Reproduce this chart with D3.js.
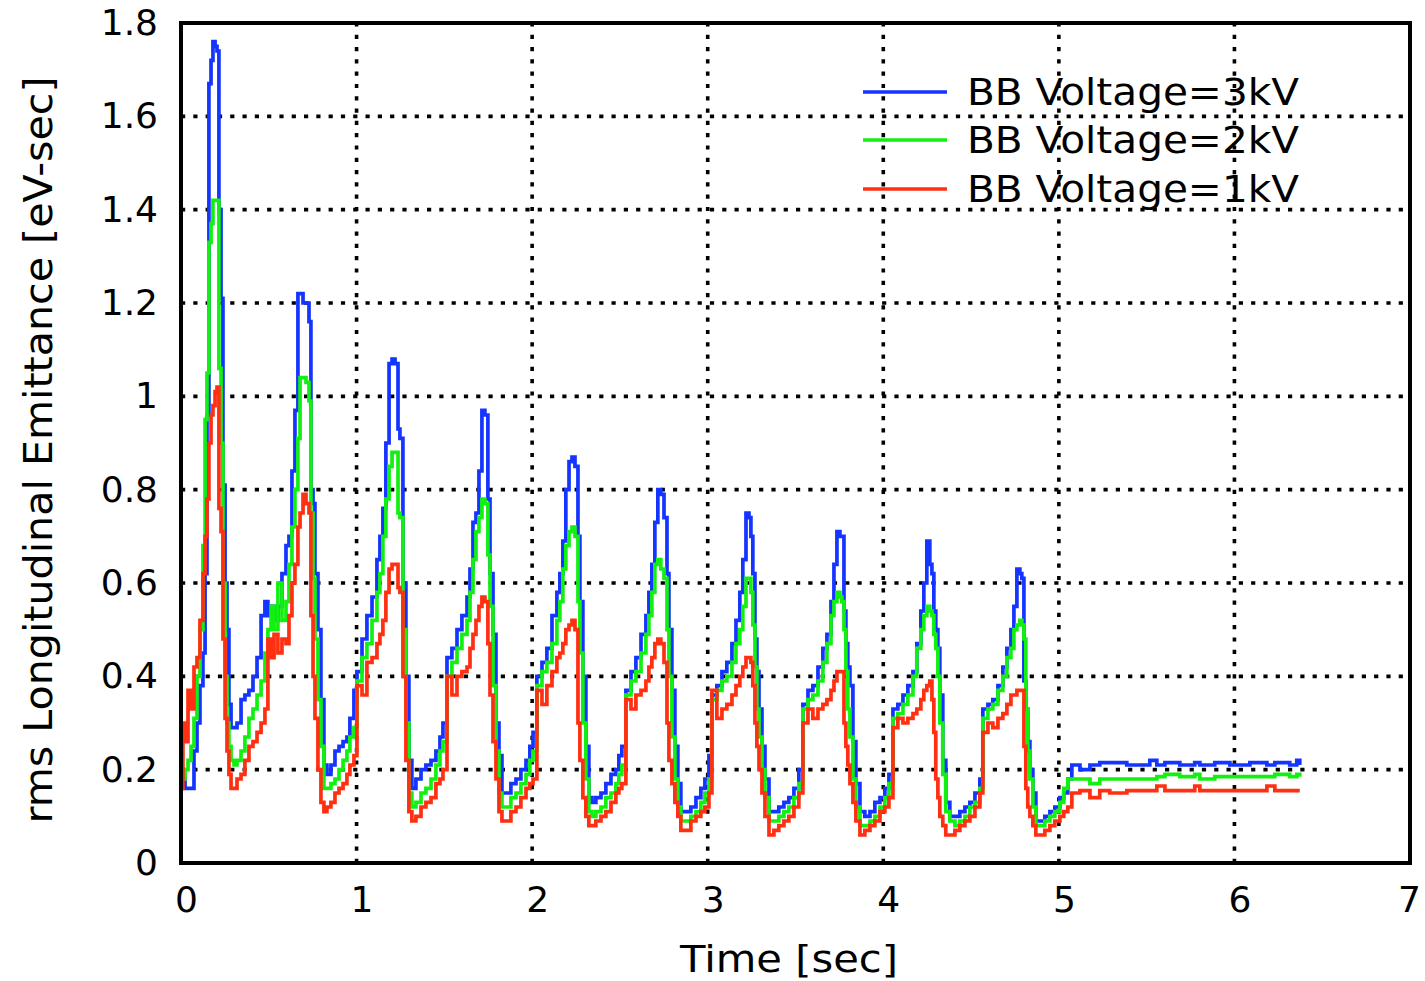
<!DOCTYPE html>
<html>
<head>
<meta charset="utf-8">
<script src="https://cdn.jsdelivr.net/npm/d3@7"></script>
<style>
  html, body { margin: 0; padding: 0; background: #ffffff; }
  svg { display: block; }
  text { font-family: "DejaVu Sans", Verdana, sans-serif; fill: #000; }
</style>
</head>
<body>
<svg id="chart" width="1425" height="981"></svg>
<script>
// Sample times [sec], shared by all three simulation runs
const time = [
  // cycles 1-2
  0.000, 0.011, 0.023, 0.040, 0.057, 0.074, 0.091, 0.108, 0.125, 0.137,
  0.148, 0.159, 0.171, 0.182, 0.194, 0.205, 0.216, 0.228, 0.239, 0.251,
  0.262, 0.273, 0.285, 0.302, 0.319, 0.342, 0.364, 0.387, 0.410, 0.433,
  0.456, 0.478, 0.495, 0.513, 0.530, 0.552, 0.575, 0.598, 0.615, 0.632,
  0.649, 0.666, 0.678, 0.695, 0.712, 0.729, 0.740, 0.752, 0.763, 0.780,
  0.797, 0.814, 0.831, 0.854, 0.877, 0.900, 0.923, 0.945, 0.962, 0.985,
  // cycle 3
  1.002, 1.031, 1.059, 1.088, 1.116, 1.133, 1.150, 1.167, 1.185, 1.202, 1.219, 1.236,
  1.247, 1.264, 1.281, 1.298, 1.315, 1.338, 1.367, 1.395, 1.424, 1.452, 1.475, 1.492,
  // cycle 4
  1.515, 1.543, 1.572, 1.600, 1.629, 1.646, 1.663, 1.680, 1.697, 1.714, 1.731, 1.748,
  1.760, 1.777, 1.794, 1.811, 1.828, 1.851, 1.879, 1.908, 1.936, 1.965, 1.987, 2.005,
  // cycle 5
  2.027, 2.056, 2.084, 2.113, 2.141, 2.158, 2.175, 2.192, 2.210, 2.227, 2.244, 2.261,
  2.272, 2.289, 2.306, 2.323, 2.341, 2.363, 2.392, 2.420, 2.449, 2.477, 2.494, 2.511,
  // cycle 6
  2.534, 2.563, 2.591, 2.620, 2.648, 2.665, 2.682, 2.699, 2.716, 2.733, 2.751, 2.768,
  2.779, 2.796, 2.813, 2.830, 2.847, 2.876, 2.904, 2.933, 2.961, 2.984, 3.007,
  // cycle 7
  3.024, 3.052, 3.081, 3.109, 3.138, 3.161, 3.183, 3.200, 3.218, 3.235, 3.246, 3.257,
  3.269, 3.280, 3.292, 3.309, 3.326, 3.349, 3.377, 3.405, 3.434, 3.462, 3.491, 3.519,
  // cycle 8
  3.542, 3.571, 3.599, 3.628, 3.656, 3.679, 3.702, 3.719, 3.736, 3.753, 3.764, 3.776,
  3.787, 3.798, 3.810, 3.827, 3.844, 3.867, 3.895, 3.924, 3.952, 3.981, 4.009, 4.032,
  // cycle 9
  4.055, 4.083, 4.112, 4.140, 4.169, 4.191, 4.214, 4.231, 4.248, 4.265, 4.277, 4.288,
  4.299, 4.311, 4.322, 4.339, 4.356, 4.379, 4.408, 4.436, 4.465, 4.493, 4.522, 4.550,
  // cycle 10
  4.567, 4.596, 4.624, 4.653, 4.681, 4.704, 4.727, 4.744, 4.761, 4.778, 4.789, 4.801,
  4.812, 4.823, 4.835, 4.852, 4.869, 4.892, 4.920, 4.949, 4.977, 5.006, 5.028, 5.051,
  // flat top after the last cycle
  5.074, 5.120, 5.177, 5.233, 5.290, 5.387, 5.518, 5.558, 5.604, 5.689,
  5.774, 5.803, 5.888, 5.974, 6.088, 6.185, 6.230, 6.315, 6.355, 6.372
];

// rms longitudinal emittance [eV-sec], BB voltage = 3 kV
const emit3kV = [
  0.20, 0.18, 0.16, 0.16, 0.16, 0.24, 0.30, 0.38, 0.45, 0.62,
  0.96, 1.67, 1.72, 1.76, 1.75, 1.74, 1.40, 1.21, 0.81, 0.60,
  0.50, 0.34, 0.29, 0.29, 0.30, 0.35, 0.36, 0.37, 0.40, 0.44,
  0.53, 0.56, 0.53, 0.55, 0.52, 0.55, 0.62, 0.68, 0.70, 0.84,
  0.97, 1.22, 1.22, 1.20, 1.20, 1.16, 0.80, 0.77, 0.62, 0.50,
  0.35, 0.21, 0.19, 0.21, 0.24, 0.25, 0.26, 0.27, 0.31, 0.37,
  0.41, 0.48, 0.53, 0.57, 0.65, 0.70, 0.76, 0.90, 1.07, 1.08, 1.07, 0.93,
  0.91, 0.60, 0.40, 0.22, 0.16, 0.18, 0.20, 0.21, 0.22, 0.24, 0.27, 0.30,
  0.44, 0.46, 0.50, 0.53, 0.57, 0.63, 0.73, 0.75, 0.84, 0.97, 0.96, 0.78,
  0.62, 0.49, 0.30, 0.23, 0.15, 0.15, 0.17, 0.18, 0.20, 0.22, 0.25, 0.28,
  0.40, 0.43, 0.46, 0.53, 0.58, 0.62, 0.69, 0.80, 0.86, 0.87, 0.85, 0.70,
  0.56, 0.40, 0.25, 0.14, 0.13, 0.14, 0.15, 0.17, 0.19, 0.20, 0.23, 0.25,
  0.37, 0.41, 0.44, 0.49, 0.53, 0.58, 0.64, 0.73, 0.80, 0.79, 0.74, 0.62,
  0.50, 0.37, 0.25, 0.17, 0.11, 0.11, 0.12, 0.14, 0.16, 0.18, 0.23,
  0.36, 0.38, 0.41, 0.43, 0.47, 0.52, 0.58, 0.65, 0.75, 0.74, 0.70, 0.62,
  0.48, 0.41, 0.33, 0.25, 0.18, 0.11, 0.11, 0.12, 0.13, 0.14, 0.16, 0.20,
  0.34, 0.37, 0.38, 0.42, 0.46, 0.49, 0.56, 0.64, 0.71, 0.70, 0.70, 0.54,
  0.47, 0.42, 0.38, 0.26, 0.17, 0.11, 0.10, 0.11, 0.13, 0.14, 0.16, 0.19,
  0.33, 0.34, 0.36, 0.38, 0.41, 0.47, 0.54, 0.60, 0.69, 0.64, 0.62, 0.54,
  0.50, 0.46, 0.36, 0.22, 0.13, 0.10, 0.10, 0.11, 0.12, 0.13, 0.15, 0.18,
  0.33, 0.34, 0.35, 0.38, 0.42, 0.46, 0.50, 0.55, 0.63, 0.62, 0.61, 0.39,
  0.33, 0.26, 0.20, 0.15, 0.09, 0.09, 0.10, 0.11, 0.12, 0.14, 0.15, 0.18,
  0.21, 0.20, 0.21, 0.215, 0.215, 0.21, 0.22, 0.21, 0.215, 0.21,
  0.215, 0.21, 0.215, 0.21, 0.215, 0.21, 0.215, 0.21, 0.22, 0.21
];

// BB voltage = 2 kV
const emit2kV = [
  0.18, 0.18, 0.20, 0.22, 0.25, 0.31, 0.40, 0.50, 0.68, 0.95,
  1.05, 1.33, 1.37, 1.42, 1.42, 1.42, 1.06, 0.90, 0.60, 0.40,
  0.30, 0.25, 0.22, 0.21, 0.22, 0.24, 0.27, 0.31, 0.33, 0.36,
  0.39, 0.45, 0.50, 0.55, 0.50, 0.60, 0.52, 0.56, 0.64, 0.72,
  0.80, 0.91, 1.04, 1.04, 1.03, 0.99, 0.75, 0.61, 0.48, 0.35,
  0.25, 0.16, 0.16, 0.17, 0.18, 0.20, 0.22, 0.24, 0.27, 0.29,
  0.39, 0.44, 0.47, 0.52, 0.58, 0.62, 0.70, 0.78, 0.85, 0.88, 0.88, 0.75,
  0.74, 0.50, 0.30, 0.15, 0.12, 0.13, 0.15, 0.16, 0.18, 0.21, 0.24, 0.26,
  0.40, 0.43, 0.46, 0.49, 0.52, 0.58, 0.65, 0.71, 0.74, 0.78, 0.77, 0.66,
  0.55, 0.38, 0.24, 0.15, 0.12, 0.12, 0.14, 0.15, 0.17, 0.19, 0.22, 0.24,
  0.38, 0.41, 0.43, 0.47, 0.52, 0.56, 0.63, 0.68, 0.71, 0.72, 0.70, 0.56,
  0.45, 0.30, 0.18, 0.11, 0.10, 0.11, 0.12, 0.14, 0.15, 0.17, 0.19, 0.21,
  0.36, 0.39, 0.41, 0.45, 0.49, 0.53, 0.58, 0.64, 0.65, 0.63, 0.61, 0.50,
  0.40, 0.27, 0.18, 0.12, 0.09, 0.09, 0.10, 0.11, 0.13, 0.15, 0.18,
  0.35, 0.37, 0.39, 0.40, 0.43, 0.47, 0.50, 0.55, 0.61, 0.61, 0.58, 0.51,
  0.42, 0.33, 0.27, 0.20, 0.14, 0.09, 0.09, 0.10, 0.11, 0.12, 0.14, 0.17,
  0.33, 0.35, 0.36, 0.39, 0.43, 0.47, 0.53, 0.56, 0.58, 0.57, 0.56, 0.50,
  0.41, 0.33, 0.27, 0.18, 0.12, 0.08, 0.08, 0.09, 0.10, 0.12, 0.14, 0.17,
  0.31, 0.32, 0.34, 0.36, 0.40, 0.46, 0.50, 0.53, 0.55, 0.54, 0.53, 0.49,
  0.46, 0.40, 0.30, 0.19, 0.11, 0.09, 0.08, 0.09, 0.10, 0.12, 0.13, 0.16,
  0.31, 0.33, 0.34, 0.37, 0.40, 0.44, 0.46, 0.50, 0.51, 0.52, 0.51, 0.48,
  0.33, 0.24, 0.18, 0.12, 0.08, 0.08, 0.09, 0.10, 0.11, 0.13, 0.16, 0.18,
  0.18, 0.18, 0.17, 0.18, 0.18, 0.18, 0.18, 0.185, 0.19, 0.185,
  0.19, 0.18, 0.185, 0.185, 0.185, 0.185, 0.19, 0.185, 0.19, 0.185
];

// BB voltage = 1 kV
const emit1kV = [
  0.16, 0.30, 0.26, 0.37, 0.33, 0.42, 0.44, 0.52, 0.62, 0.70,
  0.78, 0.90, 0.96, 0.98, 1.01, 1.02, 0.76, 0.71, 0.48, 0.31,
  0.24, 0.19, 0.16, 0.16, 0.18, 0.19, 0.22, 0.25, 0.26, 0.28,
  0.30, 0.33, 0.48, 0.44, 0.49, 0.45, 0.48, 0.47, 0.53, 0.60,
  0.64, 0.72, 0.75, 0.79, 0.77, 0.75, 0.53, 0.40, 0.31, 0.20,
  0.13, 0.11, 0.12, 0.13, 0.15, 0.16, 0.17, 0.19, 0.21, 0.23,
  0.38, 0.36, 0.43, 0.44, 0.47, 0.49, 0.52, 0.58, 0.63, 0.64, 0.64, 0.59,
  0.58, 0.40, 0.22, 0.11, 0.09, 0.10, 0.12, 0.13, 0.14, 0.17, 0.18, 0.20,
  0.40, 0.36, 0.40, 0.41, 0.42, 0.46, 0.49, 0.52, 0.55, 0.57, 0.56, 0.47,
  0.36, 0.26, 0.18, 0.11, 0.09, 0.09, 0.11, 0.12, 0.14, 0.16, 0.17, 0.18,
  0.37, 0.34, 0.38, 0.41, 0.44, 0.45, 0.47, 0.50, 0.51, 0.52, 0.50, 0.30,
  0.22, 0.14, 0.10, 0.08, 0.08, 0.09, 0.10, 0.11, 0.13, 0.15, 0.16, 0.17,
  0.35, 0.33, 0.36, 0.37, 0.39, 0.42, 0.44, 0.47, 0.48, 0.47, 0.43, 0.30,
  0.22, 0.17, 0.13, 0.10, 0.07, 0.07, 0.09, 0.10, 0.11, 0.12, 0.15,
  0.37, 0.31, 0.33, 0.34, 0.36, 0.38, 0.40, 0.42, 0.44, 0.44, 0.43, 0.38,
  0.30, 0.25, 0.20, 0.15, 0.10, 0.06, 0.07, 0.08, 0.09, 0.10, 0.12, 0.15,
  0.30, 0.33, 0.31, 0.33, 0.34, 0.35, 0.37, 0.39, 0.41, 0.41, 0.41, 0.30,
  0.25, 0.21, 0.17, 0.13, 0.09, 0.06, 0.07, 0.08, 0.09, 0.11, 0.12, 0.14,
  0.29, 0.31, 0.30, 0.31, 0.32, 0.33, 0.35, 0.37, 0.38, 0.39, 0.35, 0.28,
  0.18, 0.14, 0.10, 0.08, 0.06, 0.06, 0.07, 0.08, 0.09, 0.10, 0.12, 0.15,
  0.28, 0.30, 0.29, 0.31, 0.32, 0.34, 0.36, 0.36, 0.37, 0.37, 0.37, 0.25,
  0.16, 0.12, 0.10, 0.08, 0.06, 0.06, 0.07, 0.08, 0.09, 0.10, 0.11, 0.12,
  0.15, 0.155, 0.14, 0.155, 0.15, 0.155, 0.155, 0.165, 0.155, 0.155,
  0.165, 0.155, 0.155, 0.155, 0.155, 0.165, 0.155, 0.155, 0.155, 0.155
];

const seriesNames = ["BB Voltage=3kV", "BB Voltage=2kV", "BB Voltage=1kV"];
const seriesColors = ["#1434ff", "#12f012", "#ff3012"];
const seriesValues = [emit3kV, emit2kV, emit1kV];

const xTicks = [0, 1, 2, 3, 4, 5, 6, 7];
const xTickLabels = ["0", "1", "2", "3", "4", "5", "6", "7"];
const yTicks = [0, 0.2, 0.4, 0.6, 0.8, 1.0, 1.2, 1.4, 1.6, 1.8];
const yTickLabels = ["0", "0.2", "0.4", "0.6", "0.8", "1", "1.2", "1.4", "1.6", "1.8"];

const xTitle = "Time [sec]";
const yTitle = "rms Longitudinal Emittance [eV-sec]";

// ---- layout ----
const plot = { left: 181, right: 1410, top: 23, bottom: 863 };
const svg = d3.select("#chart");
svg.append("rect").attr("width", 1425).attr("height", 981).attr("fill", "#fff");

const x = d3.scaleLinear().domain([0, 7]).range([plot.left, plot.right]);
const y = d3.scaleLinear().domain([0, 1.8]).range([plot.bottom, plot.top]);

// dotted grid
const grid = svg.append("g")
  .attr("stroke", "#000")
  .attr("stroke-width", 3.6)
  .attr("stroke-dasharray", "4.2,8.1");
grid.selectAll("line.gx")
  .data(xTicks.slice(1, -1))
  .join("line")
  .attr("class", "gx")
  .attr("x1", d => x(d)).attr("x2", d => x(d))
  .attr("y1", plot.bottom).attr("y2", plot.top);
grid.selectAll("line.gy")
  .data(yTicks.slice(1, -1))
  .join("line")
  .attr("class", "gy")
  .attr("x1", plot.left).attr("x2", plot.right)
  .attr("y1", d => y(d)).attr("y2", d => y(d));

// tick labels
const xAxis = svg.append("g")
  .attr("transform", `translate(0,${plot.bottom})`)
  .call(d3.axisBottom(x).tickValues(xTicks)
    .tickFormat((d, i) => xTickLabels[i]).tickSize(0).tickPadding(23));
xAxis.select(".domain").remove();
xAxis.selectAll("text")
  .attr("dx", (d, i) => (i === xTicks.length - 1 ? -1 : 5))
  .style("font-family", "'DejaVu Sans', sans-serif")
  .style("font-size", "36px");

const yAxis = svg.append("g")
  .attr("transform", `translate(${plot.left},0)`)
  .call(d3.axisLeft(y).tickValues(yTicks)
    .tickFormat((d, i) => yTickLabels[i]).tickSize(0).tickPadding(23));
yAxis.select(".domain").remove();
yAxis.selectAll("text")
  .style("font-family", "'DejaVu Sans', sans-serif")
  .style("font-size", "36px");

// emittance traces (staircase output of the tracking code)
const line = d3.line()
  .x(d => x(d[0]))
  .y(d => y(d[1]))
  .curve(d3.curveStepAfter);

seriesValues.forEach((vals, k) => {
  const pts = time.map((t, i) => [t, vals[i]]).filter(p => p[1] != null);
  svg.append("path")
    .datum(pts)
    .attr("fill", "none")
    .attr("stroke", seriesColors[k])
    .attr("stroke-width", 3.7)
    .attr("stroke-linejoin", "miter")
    .attr("d", line);
});

// frame
svg.append("rect")
  .attr("x", plot.left).attr("y", plot.top)
  .attr("width", plot.right - plot.left)
  .attr("height", plot.bottom - plot.top)
  .attr("fill", "none")
  .attr("stroke", "#000")
  .attr("stroke-width", 4);

// axis titles
svg.append("text")
  .attr("x", 789).attr("y", 972)
  .attr("text-anchor", "middle")
  .attr("textLength", 218)
  .attr("lengthAdjust", "spacingAndGlyphs")
  .style("font-size", "38px")
  .text(xTitle);

svg.append("text")
  .attr("transform", "translate(52,450) rotate(-90)")
  .attr("text-anchor", "middle")
  .attr("textLength", 747)
  .attr("lengthAdjust", "spacingAndGlyphs")
  .style("font-size", "39px")
  .text(yTitle);

// legend
const legendY = [92, 140, 189];
const legend = svg.append("g");
seriesNames.forEach((name, k) => {
  legend.append("line")
    .attr("x1", 863).attr("x2", 947)
    .attr("y1", legendY[k]).attr("y2", legendY[k])
    .attr("stroke", seriesColors[k])
    .attr("stroke-width", 3.7);
  legend.append("text")
    .attr("x", 967).attr("y", legendY[k] + 13)
    .attr("textLength", 332)
    .attr("lengthAdjust", "spacingAndGlyphs")
    .style("font-size", "38px")
    .text(name);
});
</script>
</body>
</html>
